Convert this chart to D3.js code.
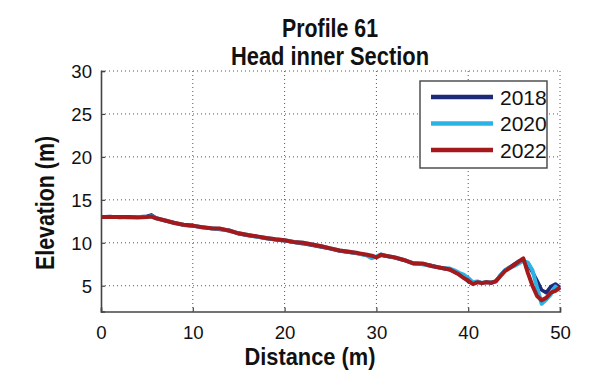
<!DOCTYPE html>
<html>
<head>
<meta charset="utf-8">
<script src="https://cdn.jsdelivr.net/npm/d3@7"></script>
<style>
  body { margin: 0; background: #fff; }
  svg { display: block; }
</style>
</head>
<body>
<div id="chart"></div>
<script>
// profile data
var distance = [0,1,2,3,4,5,5.5,6,7,8,9,10,11,12,13,14,15,16,17,18,19,20,21,22,23,24,25,26,27,28,29,
    29.5,30,30.5,31,32,33,34,35,36,37,38,38.5,39,39.5,40,40.5,41,41.5,42,42.5,43,43.5,44,
    45,45.5,46,46.5,47,47.5,48,48.5,49,49.5,50];

var elev2018 = [13.0,13.05,12.95,13.0,13.0,13.1,13.25,12.9,
    12.55,12.35,12.05,11.95,11.85,11.65,11.55,11.45,11.05,10.85,10.7,10.5,10.35,10.25,10.05,9.9,9.7,9.5,9.3,9.05,8.9,8.75,8.55,
    8.45,8.35,8.55,8.45,8.25,7.95,7.65,7.55,7.35,7.05,6.85,
    6.6,6.4,6.0,5.5,5.25,5.45,5.35,5.45,5.3,5.55,6.2,6.8,
    7.5,7.85,8.0,7.5,6.6,5.6,4.5,4.2,4.9,5.2,4.8];

var elev2020 = [13.0,13.0,13.0,12.95,13.0,13.0,13.1,12.85,
    12.6,12.3,12.1,12.0,11.8,11.7,11.6,11.4,11.1,10.9,10.7,10.55,10.4,10.3,10.1,10.0,9.8,9.6,9.35,9.1,8.95,8.75,8.5,
    8.2,8.4,8.65,8.5,8.3,8.0,7.6,7.5,7.3,7.1,7.0,
    6.8,6.5,6.3,5.9,5.4,5.5,5.3,5.4,5.4,5.5,6.2,6.8,
    7.3,7.6,7.9,7.7,6.8,4.8,2.9,3.4,4.0,4.9,4.5];

var elev2022 = [13.0,13.0,13.0,13.0,12.95,13.0,13.05,12.85,
    12.6,12.3,12.1,12.0,11.8,11.7,11.65,11.4,11.1,10.9,10.75,10.55,10.4,10.3,10.1,10.0,9.8,9.6,9.35,9.1,8.95,8.8,8.6,
    8.5,8.3,8.6,8.5,8.3,8.0,7.6,7.6,7.3,7.1,6.9,
    6.6,6.3,5.9,5.6,5.2,5.4,5.3,5.4,5.35,5.5,6.1,6.7,
    7.4,7.8,8.2,6.5,5.0,3.8,3.3,3.6,4.2,4.4,4.8];

var years = ["2018", "2020", "2022"];
var colors = ["#1c2a78", "#2bb3e6", "#a3191c"];
var xTicks = [0, 10, 20, 30, 40, 50];
var yTicks = [5, 10, 15, 20, 25, 30];

window.onload = function(){
    drawChart();
};

function drawChart(){
    var svg = d3.select("#chart").append("svg").attr("width", 589).attr("height", 372);

    var margin = { top: 71, right: 29, bottom: 60.5, left: 101 };
    var w = 589 - margin.left - margin.right;
    var h = 372 - margin.top - margin.bottom;
    var g = svg.append("g").attr("transform", "translate(" + margin.left + "," + margin.top + ")");

    var xScale = d3.scaleLinear().domain([0, 50]).range([0, w]);
    var yScale = d3.scaleLinear().domain([2, 30]).range([h, 0]);

    // dotted grid
    g.selectAll(".gx")
        .data(xTicks.slice(1))
        .enter()
        .append("line")
        .attr("x1", function(d){ return xScale(d); })
        .attr("x2", function(d){ return xScale(d); })
        .attr("y1", 0)
        .attr("y2", h)
        .attr("stroke", "#555")
        .attr("stroke-width", 1)
        .attr("stroke-dasharray", "1,3");

    g.selectAll(".gy")
        .data(yTicks)
        .enter()
        .append("line")
        .attr("x1", 0)
        .attr("x2", w)
        .attr("y1", function(d){ return yScale(d); })
        .attr("y2", function(d){ return yScale(d); })
        .attr("stroke", "#555")
        .attr("stroke-width", 1)
        .attr("stroke-dasharray", "1,3");

    // profile lines
    var series = [elev2018, elev2020, elev2022];
    var widths = [3.5, 4, 4];
    var line = d3.line()
        .x(function(d, i){ return xScale(distance[i]); })
        .y(function(d){ return yScale(d); });

    series.forEach(function(s, k){
        g.append("path")
            .datum(s)
            .attr("d", line)
            .attr("fill", "none")
            .attr("stroke", colors[k])
            .attr("stroke-width", widths[k])
            .attr("stroke-linejoin", "round");
    });

    // axes, ticks pointing inward like matlab
    var xAxis = g.append("g")
        .attr("transform", "translate(0," + h + ")")
        .call(d3.axisBottom(xScale).tickValues(xTicks).tickSize(-4).tickPadding(12));

    var yAxis = g.append("g")
        .call(d3.axisLeft(yScale).tickValues(yTicks).tickSize(-4).tickPadding(9));

    [xAxis, yAxis].forEach(function(a){
        a.select(".domain").attr("stroke", "#444").attr("stroke-width", 1.6);
        a.selectAll(".tick line").attr("stroke", "#444").attr("stroke-width", 1.2);
        a.selectAll(".tick text")
            .attr("fill", "#111")
            .style("font-family", "'Liberation Sans', Arial, sans-serif")
            .style("font-size", "18.6px");
    });
    xAxis.selectAll(".tick text").attr("dy", "0.85em");
    yAxis.selectAll(".tick text").attr("dy", "0.36em");

    // titles
    var bold = "'Liberation Sans Narrow', 'Arial Narrow', 'Liberation Sans', sans-serif";
    var titles = [["Profile 61", 37, 96], ["Head inner Section", 65, 198]];
    titles.forEach(function(t){
        svg.append("text")
            .attr("x", 330)
            .attr("y", t[1])
            .attr("text-anchor", "middle")
            .attr("textLength", t[2])
            .attr("lengthAdjust", "spacingAndGlyphs")
            .style("font-family", bold)
            .style("font-weight", "bold")
            .style("font-size", "26.5px")
            .attr("fill", "#111")
            .text(t[0]);
    });

    svg.append("text")
        .attr("x", 310)
        .attr("y", 365)
        .attr("text-anchor", "middle")
        .attr("textLength", 131)
        .attr("lengthAdjust", "spacingAndGlyphs")
        .style("font-family", bold)
        .style("font-weight", "bold")
        .style("font-size", "24px")
        .attr("fill", "#111")
        .text("Distance (m)");

    svg.append("text")
        .attr("transform", "translate(54,203) rotate(-90)")
        .attr("text-anchor", "middle")
        .attr("textLength", 134)
        .attr("lengthAdjust", "spacingAndGlyphs")
        .style("font-family", bold)
        .style("font-weight", "bold")
        .style("font-size", "25px")
        .attr("fill", "#111")
        .text("Elevation (m)");

    // legend
    var legend = svg.append("g").attr("transform", "translate(420,81)");
    legend.append("rect")
        .attr("width", 127)
        .attr("height", 87)
        .attr("fill", "#fff")
        .attr("stroke", "#444")
        .attr("stroke-width", 1.4);

    years.forEach(function(y, k){
        var cy = 16 + k * 26.5;
        legend.append("line")
            .attr("x1", 11).attr("x2", 73)
            .attr("y1", cy).attr("y2", cy)
            .attr("stroke", colors[k])
            .attr("stroke-width", 4.5);
        legend.append("text")
            .attr("x", 80)
            .attr("y", cy + 7.5)
            .style("font-family", "'Liberation Sans', Arial, sans-serif")
            .style("font-size", "21px")
            .attr("fill", "#111")
            .text(y);
    });
}
</script>
</body>
</html>
